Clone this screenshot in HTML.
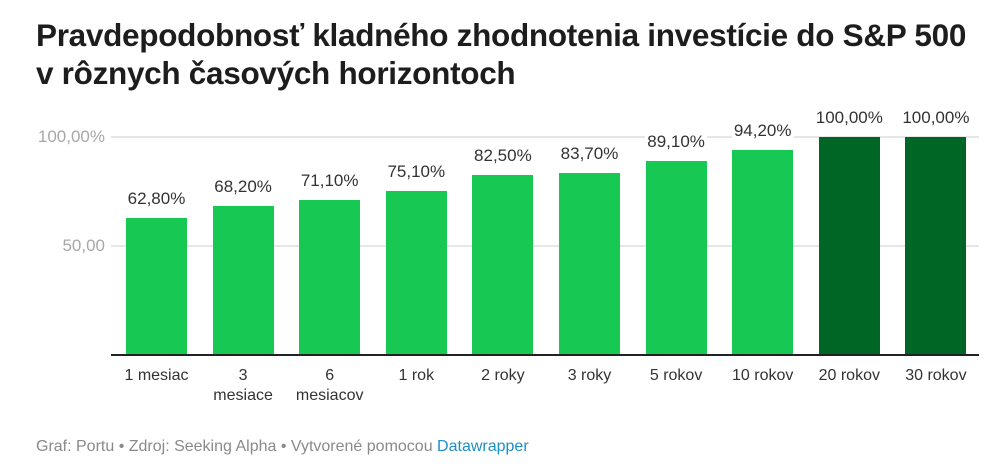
<!DOCTYPE html>
<html><head><meta charset="utf-8"><style>
body{margin:0;width:1003px;height:469px;background:#fff;font-family:"Liberation Sans",Arial,sans-serif;position:relative;overflow:hidden}
.t{position:absolute;left:36px;top:16px;font-size:31.5px;font-weight:bold;color:#1d1d1d;line-height:38px;letter-spacing:-0.3px;white-space:nowrap}
.g{position:absolute;left:111px;width:868px;height:2px;background:#e6e6e6}
.yl{position:absolute;left:0;width:105px;text-align:right;font-size:17px;color:#a8a8a8}
.b{position:absolute;width:61px}
.v{position:absolute;width:90px;text-align:center;font-size:17px;color:#333;line-height:18px}
.v span{background:#fff;padding:0 2px}
.x{position:absolute;width:90px;text-align:center;font-size:16px;color:#333;line-height:20px;top:366px}
.f{position:absolute;left:36px;top:438px;font-size:16px;color:#8a8a8a;white-space:nowrap}
</style></head><body>
<div class="t">Pravdepodobnosť kladného zhodnotenia investície do S&amp;P 500<br>v rôznych časových horizontoch</div>
<div class="g" style="top:136px"></div>
<div class="g" style="top:245px"></div>
<div class="yl" style="top:127px">100,00%</div>
<div class="yl" style="top:236px">50,00</div>
<div id="c"></div>
<div style="position:absolute;left:111px;top:354px;width:868px;height:2px;background:#222"></div>
<div class="f">Graf: Portu • Zdroj: Seeking Alpha • Vytvorené pomocou <span style="color:#1d8fc7">Datawrapper</span></div>
<script>
var d=[[62.8,"62,80%","1 mesiac"],[68.2,"68,20%","3<br>mesiace"],[71.1,"71,10%","6<br>mesiacov"],[75.1,"75,10%","1 rok"],[82.5,"82,50%","2 roky"],[83.7,"83,70%","3 roky"],[89.1,"89,10%","5 rokov"],[94.2,"94,20%","10 rokov"],[100,"100,00%","20 rokov"],[100,"100,00%","30 rokov"]];
var h="";
d.forEach(function(e,i){var l=126+i*86.6,top=355-e[0]*2.18,col=i>7?"#006625":"#17c853";
h+='<div class="b" style="left:'+l+'px;top:'+top+'px;height:'+(355-top)+'px;background:'+col+'"></div>';
h+='<div class="v" style="left:'+(l-14.5)+'px;top:'+(top-28)+'px"><span>'+e[1]+'</span></div>';
h+='<div class="x" style="left:'+(l-14.5)+'px">'+e[2]+'</div>';});
document.getElementById("c").innerHTML=h;
</script>
</body></html>
